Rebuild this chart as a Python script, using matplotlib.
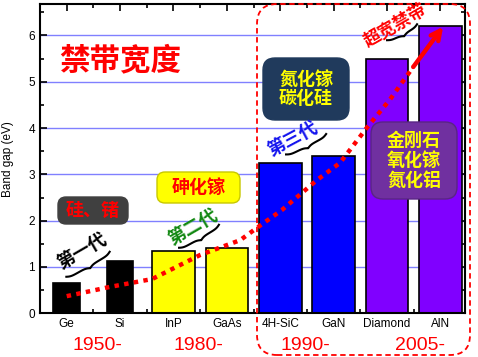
import numpy as np
import matplotlib
matplotlib.use('Agg')
import matplotlib.pyplot as plt
from matplotlib.patches import FancyBboxPatch
from matplotlib.lines import Line2D
from matplotlib.transforms import IdentityTransform

# data
materials = ['Ge', 'Si', 'InP', 'GaAs', '4H-SiC', 'GaN', 'Diamond', 'AlN']
band_gap = [0.66, 1.12, 1.34, 1.42, 3.25, 3.40, 5.50, 6.20]
bar_width = [0.5, 0.5, 0.8, 0.8, 0.8, 0.8, 0.8, 0.8]
bar_color = ['black', 'black', '#ffff00', '#ffff00', '#0000ff', '#0000ff', '#8000ff', '#8000ff']
years = ['1950-', '1980-', '1990-', '2005-']

# hand-drawn trend guide (data coords)
trend_x = [0.0, 0.81, 1.60, 2.50, 3.25, 3.58, 4.03, 4.69, 5.12, 5.63, 6.05, 6.49, 7.05]
trend_y = [0.37, 0.57, 0.74, 1.26, 1.58, 1.86, 2.23, 2.88, 3.25, 4.02, 4.61, 5.32, 6.19]

W, H = 478, 357
CJK = ['Noto Sans CJK SC', 'DejaVu Sans']
LAT = 'Liberation Sans'
PX = IdentityTransform()

fig = plt.figure(figsize=(W / 100, H / 100), dpi=100)
ax = fig.add_axes([40 / W, 1 - 313.3 / H, 425 / W, 309.3 / H])

x = np.arange(len(materials))
ax.bar(x, band_gap, width=bar_width, color=bar_color, edgecolor='black', linewidth=1.2, zorder=2)
ax.set_xlim(-0.5, 7.46)
ax.set_ylim(0, 6.68)
ax.set_xticks(x)
ax.set_xticklabels(materials, fontfamily=LAT, fontsize=8.5)
ax.set_xticks(x[:-1] + 0.5, minor=True)
ax.set_yticks(range(7))
ax.set_yticks(np.arange(0.5, 6.6, 1), minor=True)
ax.tick_params(labelsize=8.5, which='both', direction='in', top=True, right=True, width=1.2)
ax.tick_params(which='major', length=5)
ax.tick_params(which='minor', length=3)
for lbl in ax.get_yticklabels():
    lbl.set_fontfamily(LAT)
ax.grid(axis='y', color='#8080ff', linewidth=1)
ax.set_axisbelow(True)
for s in ax.spines.values():
    s.set_linewidth(1.5)
ax.set_ylabel('Band gap (eV)', fontfamily=LAT, fontsize=8.5)
ax.yaxis.set_label_coords(-0.062, 0.5)

# dotted trend and arrow
ax.plot(trend_x[:-1], trend_y[:-1], color='red', linestyle=(0, (1, 1.2)), linewidth=3.2, zorder=5)
ax.annotate('', xy=(trend_x[-1], trend_y[-1]), xytext=(trend_x[-2], trend_y[-2]),
            arrowprops=dict(arrowstyle='->', color='red', lw=3.2, mutation_scale=17,
                            shrinkA=0, shrinkB=0), zorder=5)


def ftext(px, py, s, **kw):
    fig.text(px, H - py, s, transform=PX, ha='center', va='center', **kw)


def box(x0, y0, x1, y1, fc, ec=None, r=8):
    p = FancyBboxPatch((x0, H - y1), x1 - x0, y1 - y0,
                       boxstyle=f'round,pad=0,rounding_size={r}',
                       fc=fc, ec=ec if ec else fc, lw=1, transform=PX)
    fig.add_artist(p)


def brace(cx, cy, length, ang, color):
    n = 60
    xh = np.linspace(0, length / 2, n)
    beta = 0.45
    yh = 1 / (1 + np.exp(-beta * (xh - xh[0]))) + 1 / (1 + np.exp(-beta * (xh - xh[-1])))
    xs = np.linspace(-length / 2, length / 2, 2 * n - 1)
    ys = np.concatenate([yh, yh[-2::-1]])
    ys = -(ys - ys.min()) / (ys.max() - ys.min()) * 4.5 + 2
    a = np.deg2rad(ang)
    dx = xs * np.cos(a) - ys * np.sin(a)
    dy = xs * np.sin(a) + ys * np.cos(a)
    fig.add_artist(Line2D(cx + dx, H - cy + dy, color=color, lw=1.5, transform=PX))


# title
ftext(120, 60, '禁带宽度', family=CJK, fontsize=22, fontweight='bold', color='#ff0000')

# material boxes
box(58, 197, 128, 224, '#404040')
ftext(93, 210.5, '硅、锗', family=CJK, fontsize=13, fontweight='bold', color='#ff0000')
box(157, 172, 240, 203, '#ffff00', ec='#c8c800')
ftext(198.5, 187.5, '砷化镓', family=CJK, fontsize=13, fontweight='bold', color='#ff0000')
box(263, 58, 349, 120, '#203a5c', r=12)
ftext(306, 89, '氮化镓\n碳化硅', family=CJK, fontsize=13, fontweight='bold', color='#ffff00',
      linespacing=1.05)
box(371, 122, 457, 199, '#7030a0', ec='#5a2585', r=12)
ftext(414, 160.5, '金刚石\n氧化镓\n氮化铝', family=CJK, fontsize=13, fontweight='bold', color='#ffff00',
      linespacing=1.05)

# generation labels with braces
ftext(82, 251, '第一代', family=CJK, fontsize=13, fontweight='bold', color='black', rotation=30)
brace(89, 266, 50, 30, 'black')
ftext(193, 227, '第二代', family=CJK, fontsize=13, fontweight='bold', color='#118811', rotation=30)
brace(200, 238, 46, 30, 'black')
ftext(293, 139, '第三代', family=CJK, fontsize=13, fontweight='bold', color='#1515ee', rotation=28)
brace(307, 146, 45, 27, 'black')
ftext(395, 25, '超宽禁带', family=CJK, fontsize=12.5, fontweight='bold', color='#ff0000', rotation=30)
brace(403, 34, 34, 28, 'black')

# years
for xp, yr in zip([97, 198, 305, 420], years):
    ftext(xp, 345, yr, family=LAT, fontsize=14, color='#ff0000')

# dashed frame
frame = FancyBboxPatch((257, H - 355), 213, 351, boxstyle='round,pad=0,rounding_size=20',
                       fc='none', ec='#ff0000', lw=1.3, linestyle=(0, (3, 2)), transform=PX)
fig.add_artist(frame)

plt.savefig('out.png', dpi=100)
